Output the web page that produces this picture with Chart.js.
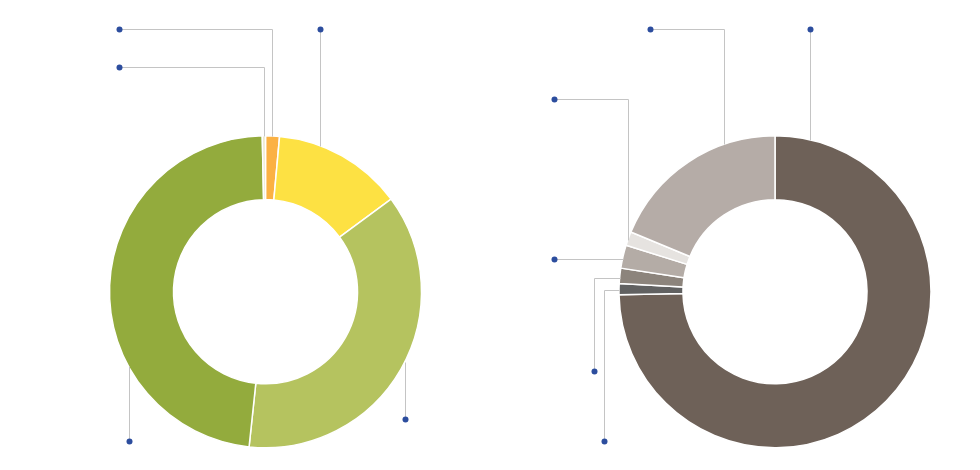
<!DOCTYPE html>
<html>
<head>
<meta charset="utf-8">
<script src="https://cdn.jsdelivr.net/npm/chart.js@4/dist/chart.umd.min.js"></script>
<style>
  html, body { margin: 0; padding: 0; background: #fff; overflow: hidden; }
  .wrap { position: absolute; top: 0; width: 490px; height: 470px; }
  #left { left: 0; }
  #right { left: 490px; }
</style>
</head>
<body>
<div class="wrap" id="left"><canvas id="chart-left"></canvas></div>
<div class="wrap" id="right"><canvas id="chart-right"></canvas></div>
<script>
// data (share of total, %)
const leftCategories = ['Segment 1', 'Segment 2', 'Segment 3', 'Segment 4', 'Segment 5'];
const leftValues = [1.44, 13.45, 36.8, 48.0, 0.33];
const leftColors = ['#fbb143', '#fde143', '#b5c35f', '#93ab3d', '#ece8cd'];

const rightCategories = ['Segment 1', 'Segment 2', 'Segment 3', 'Segment 4', 'Segment 5', 'Segment 6'];
const rightValues = [74.7, 1.14, 1.58, 2.39, 1.44, 18.75];
const rightColors = ['#6e6158', '#616161', '#8c847c', '#b4aca6', '#e6e3e0', '#b5aca7'];

// leader lines: offsets from the doughnut centre (dot -> elbows -> ring)
const leftLeaders = [
  { pts: [[-147, -263], [6.5, -263]], to: 'v' },
  { pts: [[54.5, -263]], to: 'v' },
  { pts: [[139.5, 127]], to: 'v' },
  { pts: [[-137, 149]], to: 'v' },
  { pts: [[-147, -225], [-1.5, -225]], to: 'v' },
];
const rightLeaders = [
  { pts: [[35, -263]], to: 'v' },
  { pts: [[-171, 149], [-171, -2]], to: 'h' },
  { pts: [[-181, 79], [-181, -13.5]], to: 'h' },
  { pts: [[-221, -33]], to: 'h' },
  { pts: [[-221, -193], [-147, -193]], to: 'v' },
  { pts: [[-125, -263], [-51, -263]], to: 'v' },
];

const leaderPlugin = {
  id: 'leaders',
  afterDatasetsDraw(chart, args, opts) {
    const arc = chart.getDatasetMeta(0).data[0];
    if (!arc) return;
    const cx = arc.x, cy = arc.y, r = arc.outerRadius;
    const ctx = chart.ctx;
    ctx.save();
    opts.leaders.forEach(l => {
      const pts = l.pts.map(p => [cx + p[0], cy + p[1]]);
      const last = l.pts[l.pts.length - 1];
      let end;
      if (l.to === 'v') {
        const dy = Math.sqrt(Math.max(r * r - last[0] * last[0], 0));
        end = [cx + last[0], cy + (last[1] < 0 ? -dy : dy)];
      } else {
        const dx = Math.sqrt(Math.max(r * r - last[1] * last[1], 0));
        end = [cx + (last[0] < 0 ? -dx : dx), cy + last[1]];
      }
      ctx.beginPath();
      ctx.strokeStyle = '#c4c4c4';
      ctx.lineWidth = 1;
      ctx.moveTo(Math.round(pts[0][0]) + 0.5, Math.round(pts[0][1]) + 0.5);
      pts.slice(1).concat([end]).forEach(p => ctx.lineTo(Math.round(p[0]) + 0.5, Math.round(p[1]) + 0.5));
      ctx.stroke();
    });
    opts.leaders.forEach(l => {
      ctx.beginPath();
      ctx.fillStyle = '#2c4d9e';
      ctx.arc(Math.round(cx + l.pts[0][0]) + 0.5, Math.round(cy + l.pts[0][1]) + 0.5, 3, 0, Math.PI * 2);
      ctx.fill();
    });
    ctx.restore();
  }
};

const makeDoughnut = (el, labels, values, colors, leaders, padLeft, padRight) => new Chart(el, {
  type: 'doughnut',
  data: {
    labels: labels,
    datasets: [{
      data: values,
      backgroundColor: colors,
      borderColor: '#ffffff',
      borderWidth: 1.5,
    }]
  },
  options: {
    responsive: true,
    maintainAspectRatio: false,
    animation: false,
    cutout: '59%',
    layout: {
      padding: { top: 135, bottom: 21.5, left: padLeft, right: padRight }
    },
    plugins: {
      legend: { display: false },
      tooltip: { enabled: false },
      leaders: { leaders: leaders }
    }
  },
  plugins: [leaderPlugin]
});

makeDoughnut(document.getElementById('chart-left'), leftCategories, leftValues, leftColors, leftLeaders, 108.75, 67.75);
makeDoughnut(document.getElementById('chart-right'), rightCategories, rightValues, rightColors, rightLeaders, 128.25, 48.25);
</script>
</body>
</html>
